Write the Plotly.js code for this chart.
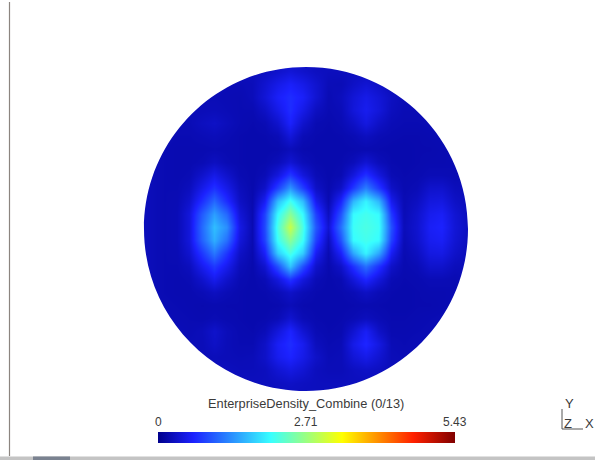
<!DOCTYPE html>
<html><head><meta charset="utf-8">
<script src="https://cdn.plot.ly/plotly-3.0.1.min.js"></script>
<style>html,body{margin:0;padding:0;background:#fff}#c{width:595px;height:460px}</style>
</head><body><div id="c"></div>
<script>
const titleText = "EnterpriseDensity_Combine (0/13)";
const tickValues = [0, 2.71, 5.43];
const tickLabels = ["0", "2.71", "5.43"];
const axisNames = ["Y", "Z", "X"];
// density on the disc, one list per row, top to bottom
const row01 = [.28,.28,.28,.28,.28,.28,.28,.28,.28,.28,.28,.32,.34,.32,.28,.28,.28,.28,.28,.28,.28,.28,.28,.28,.28,.28,.28,.28];
const row02 = [.28,.28,.28,.28,.28,.28,.28,.28,.28,.28,.3,.36,.42,.36,.3,.28,.28,.28,.28,.28,.28,.28,.28,.28,.28,.28,.28,.28];
const row03 = [.28,.28,.28,.28,.26,.25,.25,.24,.24,.26,.38,.52,.62,.52,.38,.25,.24,.33,.4,.33,.25,.25,.25,.26,.28,.28,.28,.28];
const row04 = [.28,.28,.28,.26,.25,.24,.24,.23,.22,.26,.42,.62,.72,.62,.4,.23,.28,.42,.52,.42,.3,.24,.24,.25,.26,.28,.28,.28];
const row05 = [.28,.28,.26,.25,.24,.25,.26,.24,.22,.22,.32,.52,.72,.52,.3,.22,.25,.44,.56,.44,.28,.23,.23,.24,.25,.26,.28,.28];
const row06 = [.28,.28,.25,.24,.24,.29,.33,.27,.22,.2,.23,.37,.64,.37,.22,.2,.23,.33,.48,.33,.24,.22,.22,.23,.24,.25,.28,.28];
const row07 = [.28,.26,.24,.22,.22,.24,.26,.23,.2,.19,.2,.24,.44,.24,.2,.19,.2,.23,.29,.23,.21,.2,.2,.21,.22,.24,.26,.28];
const row08 = [.28,.25,.22,.21,.21,.21,.22,.21,.2,.19,.19,.2,.26,.2,.19,.19,.19,.2,.21,.2,.19,.19,.2,.2,.21,.22,.25,.28];
const row09 = [.28,.25,.22,.21,.21,.23,.3,.23,.2,.19,.2,.26,.4,.26,.2,.19,.2,.26,.4,.26,.2,.19,.2,.21,.21,.22,.25,.28];
const row10 = [.28,.25,.22,.21,.23,.36,.52,.36,.22,.19,.24,.46,.8,.46,.24,.19,.22,.46,.75,.46,.23,.2,.21,.24,.24,.22,.25,.28];
const row11 = [.28,.25,.22,.22,.28,.52,.75,.52,.27,.19,.34,.85,1.4,.85,.33,.2,.33,.8,1.25,.8,.33,.21,.24,.36,.37,.27,.25,.28];
const row12 = [.28,.25,.22,.23,.36,.72,1.1,.72,.32,.2,.58,1.65,2.15,1.65,.55,.22,.65,1.6,2.0,1.6,.55,.23,.3,.46,.48,.33,.26,.28];
const row13 = [.28,.25,.22,.24,.45,1.0,1.45,1.1,.42,.21,.85,2.05,2.6,2.05,.85,.3,.95,2.05,2.15,2.05,.8,.24,.36,.55,.6,.4,.28,.28];
const row14 = [.28,.25,.22,.24,.45,1.1,1.65,1.35,.5,.22,.9,2.2,3.0,2.2,1.0,.4,1.15,2.1,2.2,2.1,.95,.26,.38,.6,.65,.42,.3,.28];
const row15 = [.28,.25,.22,.24,.45,1.05,1.55,1.15,.44,.21,.85,2.1,2.6,2.1,.85,.28,.95,2.05,2.15,2.05,.85,.24,.36,.56,.6,.4,.28,.28];
const row16 = [.28,.25,.22,.23,.38,.78,1.2,.78,.33,.2,.62,1.75,2.2,1.75,.58,.22,.62,1.5,2.0,1.5,.58,.22,.3,.48,.5,.35,.26,.28];
const row17 = [.28,.25,.22,.22,.28,.55,.8,.55,.26,.19,.38,.95,1.7,.95,.36,.2,.34,.75,1.15,.75,.34,.21,.24,.36,.36,.27,.25,.28];
const row18 = [.28,.25,.22,.21,.23,.36,.55,.36,.22,.19,.24,.46,.78,.46,.24,.19,.22,.44,.68,.44,.23,.2,.21,.24,.24,.22,.25,.28];
const row19 = [.28,.25,.22,.21,.21,.24,.3,.24,.2,.19,.2,.25,.34,.25,.2,.19,.2,.24,.32,.24,.2,.19,.2,.21,.21,.22,.25,.28];
const row20 = [.28,.26,.23,.22,.21,.2,.21,.2,.2,.19,.19,.2,.25,.2,.19,.19,.19,.2,.21,.2,.19,.19,.2,.2,.21,.23,.26,.28];
const row21 = [.28,.28,.25,.23,.22,.21,.23,.21,.2,.19,.2,.24,.38,.24,.2,.19,.2,.23,.28,.23,.2,.2,.21,.22,.23,.25,.28,.28];
const row22 = [.28,.28,.26,.25,.23,.26,.36,.26,.21,.2,.25,.45,.66,.4,.23,.2,.21,.39,.6,.33,.21,.21,.22,.23,.25,.26,.28,.28];
const row23 = [.28,.28,.28,.26,.25,.25,.33,.25,.22,.22,.33,.6,.72,.56,.28,.22,.24,.52,.68,.48,.24,.22,.24,.25,.26,.28,.28,.28];
const row24 = [.28,.28,.28,.28,.26,.25,.26,.25,.24,.25,.34,.56,.66,.52,.34,.24,.25,.42,.52,.39,.25,.24,.25,.26,.28,.28,.28,.28];
const row25 = [.28,.28,.28,.28,.28,.28,.28,.28,.26,.26,.28,.4,.48,.4,.28,.25,.25,.3,.33,.3,.26,.26,.28,.28,.28,.28,.28,.28];
const row26 = [.28,.28,.28,.28,.28,.28,.28,.28,.28,.28,.28,.3,.33,.3,.28,.28,.28,.28,.28,.28,.28,.28,.28,.28,.28,.28,.28,.28];
const row27 = [.28,.28,.28,.28,.28,.28,.28,.28,.28,.28,.28,.28,.28,.28,.28,.28,.28,.28,.28,.28,.28,.28,.28,.28,.28,.28,.28,.28];
const density = [row01,row02,row03,row04,row05,row06,row07,row08,row09,row10,row11,row12,row13,row14,row15,row16,row17,row18,row19,row20,row21,row22,row23,row24,row25,row26,row27];

const W = 595, H = 460, cx = 306, cy = 229, R = 162;
const barLeft = 158, barWidth = 297;
const scale = [[0,"#00008c"],[0.12,"#1c22ff"],[0.38,"#38ffff"],[0.62,"#ffff00"],[0.86,"#ff2000"],[1,"#800000"]];
const k = 0.5523, m = 1.3;
const disc = `M ${-m} ${-m} L ${m} ${-m} L ${m} ${m} L ${-m} ${m} Z `+
 `M 1 0 C 1 ${k} ${k} 1 0 1 C ${-k} 1 -1 ${k} -1 0 C -1 ${-k} ${-k} -1 0 -1 C ${k} -1 1 ${-k} 1 0 Z`;
const px = x => x / W, py = y => 1 - y / H;
const line = (x0,y0,x1,y1,c,w) => ({type:"line",xref:"paper",yref:"paper",x0:px(x0),y0:py(y0),x1:px(x1),y1:py(y1),line:{color:c,width:w}});
const rect = (x0,y0,x1,y1,c) => ({type:"rect",xref:"paper",yref:"paper",x0:px(x0),y0:py(y0),x1:px(x1),y1:py(y1),fillcolor:c,line:{width:0}});
const font = {family:"Liberation Sans, Arial, sans-serif",size:12,color:"#3a3a3a"};
const label = (t,x,y,s) => ({text:t,xref:"paper",yref:"paper",x:px(x),y:py(y),showarrow:false,xanchor:"center",yanchor:"middle",font:{...font,size:s}});

Plotly.newPlot("c",[{
  type:"heatmap", z:density, x0:-1.035, dx:0.078, y0:1.0556, dy:-0.0802,
  zmin:0, zmax:5.43, zsmooth:"best", colorscale:scale,
  colorbar:{orientation:"h",xref:"container",yref:"container",x:barLeft/W,xanchor:"left",y:17/H,yanchor:"bottom",
    len:barWidth,lenmode:"pixels",thickness:11,xpad:0,ypad:0,outlinewidth:0,ticks:"",showticklabels:false}
}],{
  width:W,height:H,margin:{l:0,r:0,t:0,b:0,pad:0,autoexpand:false},
  paper_bgcolor:"#fff",plot_bgcolor:"#fff",showlegend:false,
  xaxis:{range:[-cx/R,(W-cx)/R],visible:false,fixedrange:true},
  yaxis:{range:[(cy-H)/R,cy/R],visible:false,fixedrange:true},
  shapes:[
    {type:"path",xref:"x",yref:"y",path:disc,fillcolor:"#fff",fillrule:"evenodd",line:{width:0}},
    rect(0,456.5,W,460,"#c4c4c4"), rect(33,456.5,70,460,"#7a8290"),
    line(9.5,2,9.5,456,"#8c8580",1.2),
    line(562,409,562,429,"#555",1), line(562,429,583,429,"#555",1)
  ],
  annotations:[
    label(titleText,306,403,12.8),
    ...tickValues.map((v,i)=>label(tickLabels[i],barLeft+barWidth*v/tickValues[2],422,12)),
    label(axisNames[0],569,403,13),label(axisNames[1],568,423,13),label(axisNames[2],589,423,13)
  ]
},{displayModeBar:false,staticPlot:true});
</script></body></html>
